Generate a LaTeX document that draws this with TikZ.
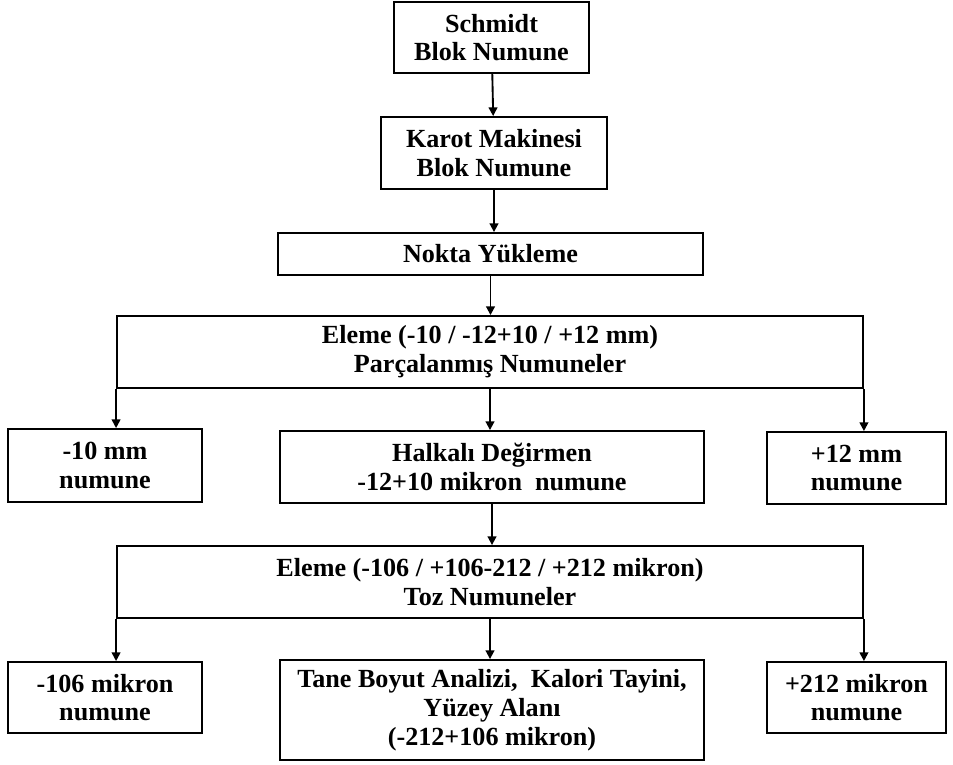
\documentclass[tikz,border=0pt]{standalone}
\usepackage{fontspec}
\setmainfont{Liberation Serif}
\usetikzlibrary{arrows.meta}
\begin{document}
\begin{tikzpicture}[x=0.75pt,y=-0.75pt,
  box/.style={draw,line width=1.4pt,inner sep=0pt,align=center,
    font=\fontsize{19.6}{21.6}\selectfont\bfseries},
  arr/.style={line width=1.4pt,-{Triangle[length=6.5pt,width=6.5pt]}}]
\useasboundingbox (0,0) rectangle (953,764);
\node[box,minimum width=195*0.75pt,minimum height=71*0.75pt] (b1) at (491.5,37.5) {Schmidt\\Blok Numune};
\node[box,minimum width=226*0.75pt,minimum height=72*0.75pt] (b2) at (494,153) {Karot Makinesi\\Blok Numune};
\node[box,minimum width=425*0.75pt,minimum height=42*0.75pt] (b3) at (490.5,254) {Nokta Yükleme};
\node[box,minimum width=746*0.75pt,minimum height=72*0.75pt] (b4) at (490,352) {Eleme (-10 / -12+10 / +12 mm)\\Parçalanmış Numuneler};
\node[box,minimum width=194*0.75pt,minimum height=73*0.75pt] (b5) at (105,465.5) {-10 mm\\numune};
\node[box,minimum width=424*0.75pt,minimum height=72*0.75pt] (b6) at (492,467) {Halkalı Değirmen\\-12+10 mikron\ \ numune};
\node[box,minimum width=179*0.75pt,minimum height=72*0.75pt] (b7) at (856.5,468) {+12 mm\\numune};
\node[box,minimum width=746*0.75pt,minimum height=72*0.75pt] (b8) at (490,582) {Eleme (-106 / +106-212 / +212 mikron)\\Toz Numuneler};
\node[box,minimum width=194*0.75pt,minimum height=71*0.75pt] (b9) at (105,697.5) {-106 mikron\\numune};
\node[box,minimum width=424*0.75pt,minimum height=100*0.75pt] (b10) at (492,710) {Tane Boyut Analizi,\ \ Kalori Tayini,\\Yüzey Alanı\\(-212+106 mikron)};
\node[box,minimum width=179*0.75pt,minimum height=71*0.75pt] (b11) at (856.5,697.5) {+212 mikron\\numune};
\draw[arr] (b1) -- (b2);
\draw[arr] (b2) -- (b2 |- b3.north);
\draw[arr] (b3) -- (b3 |- b4.north);
\draw[arr] (b4.south west) -- (b4.south west |- b5.north);
\draw[arr] (b4) -- (b4 |- b6.north);
\draw[arr] (b4.south east) -- (b4.south east |- b7.north);
\draw[arr] (b6) -- (b6 |- b8.north);
\draw[arr] (b8.south west) -- (b8.south west |- b9.north);
\draw[arr] (b8) -- (b8 |- b10.north);
\draw[arr] (b8.south east) -- (b8.south east |- b11.north);
\end{tikzpicture}
\end{document}
